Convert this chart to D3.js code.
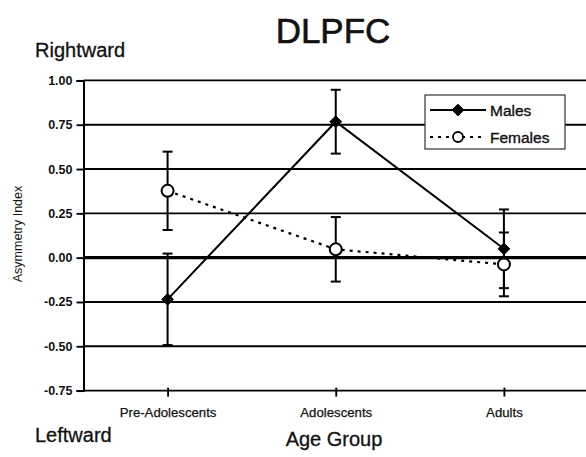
<!DOCTYPE html>
<html>
<head>
<meta charset="utf-8">
<script src="https://cdn.jsdelivr.net/npm/d3@7"></script>
<style>
  html, body { margin: 0; padding: 0; background: #fff; }
  svg { display: block; font-family: "Liberation Sans", Arial, Helvetica, sans-serif; }
</style>
</head>
<body>
<svg id="chart" width="586" height="457"></svg>
<script>
// ---- data ----
const categories = ["Pre-Adolescents", "Adolescents", "Adults"];
const malesMean = [-0.235, 0.767, 0.05];
const malesErr = [0.258, 0.18, 0.222];
const femalesMean = [0.377, 0.047, -0.038];
const femalesErr = [0.221, 0.182, 0.18];
const yTicks = [1.00, 0.75, 0.50, 0.25, 0.00, -0.25, -0.50, -0.75];
const seriesNames = ["Males", "Females"];
const titleText = "DLPFC";
const yTitle = "Asymmetry Index";
const xTitle = "Age Group";
const topNote = "Rightward";
const bottomNote = "Leftward";

// ---- layout ----
const svg = d3.select("#chart");
const plotL = 83.5, plotR = 588, plotT = 80.4, plotB = 390.6;

const x = d3.scalePoint().domain(categories).range([plotL, plotR]).padding(0.5);
const y = d3.scaleLinear().domain([-0.75, 1.0]).range([plotB, plotT]);
const fmt = v => d3.format(".2f")(v).replace("\u2212", "-");

// grid lines
svg.append("g").selectAll("line").data(yTicks).join("line")
  .attr("x1", plotL).attr("x2", plotR)
  .attr("y1", d => y(d)).attr("y2", d => y(d))
  .attr("stroke", "#000")
  .attr("stroke-width", d => d === 0 ? 3.2 : 1.9);

// y axis
const yAxis = d3.axisLeft(y).tickValues(yTicks).tickFormat(fmt).tickSize(7).tickPadding(4);
const gy = svg.append("g").attr("transform", `translate(${plotL},0)`).call(yAxis);
gy.select(".domain").attr("stroke-width", 2);
gy.selectAll(".tick line").attr("stroke-width", 1.9);
gy.selectAll(".tick text").attr("font-size", 12.5).attr("font-weight", "bold")
  .attr("font-family", "'Liberation Sans', Arial, sans-serif").attr("fill", "#111");

// x axis
const xAxis = d3.axisBottom(x).tickSize(0).tickPadding(0);
const gx = svg.append("g").attr("transform", `translate(0,${plotB})`).call(xAxis);
gx.select(".domain").remove();
gx.selectAll(".tick line").remove();
gx.selectAll(".tick").append("line").attr("y1", -3).attr("y2", 6).attr("stroke", "#000").attr("stroke-width", 1.9);
gx.selectAll(".tick text").attr("font-size", 13.2).attr("dy", 0).attr("y", 26)
  .attr("font-family", "'Liberation Sans', Arial, sans-serif").attr("fill", "#111")
  .attr("stroke", "#111").attr("stroke-width", 0.25);

// error bars
function errorBars(means, errs) {
  const g = svg.append("g").attr("stroke", "#000").attr("stroke-width", 2);
  categories.forEach((c, i) => {
    const cx = x(c), y1 = y(means[i] + errs[i]), y2 = y(means[i] - errs[i]);
    g.append("line").attr("x1", cx).attr("x2", cx).attr("y1", y1).attr("y2", y2);
    g.append("line").attr("x1", cx - 5).attr("x2", cx + 5).attr("y1", y1).attr("y2", y1);
    g.append("line").attr("x1", cx - 5).attr("x2", cx + 5).attr("y1", y2).attr("y2", y2);
  });
}
errorBars(malesMean, malesErr);
errorBars(femalesMean, femalesErr);

// lines
const lineGen = d3.line().x((d, i) => x(categories[i])).y(d => y(d));
svg.append("path").attr("d", lineGen(femalesMean)).attr("fill", "none")
  .attr("stroke", "#000").attr("stroke-width", 2.2).attr("stroke-dasharray", "3,5");
svg.append("path").attr("d", lineGen(malesMean)).attr("fill", "none")
  .attr("stroke", "#000").attr("stroke-width", 2);

// markers
const diamond = d3.symbol().type(d3.symbolDiamond2).size(88);
svg.append("g").selectAll("path").data(malesMean).join("path")
  .attr("d", diamond)
  .attr("transform", (d, i) => `translate(${x(categories[i])},${y(d)})`)
  .attr("fill", "#000").attr("stroke", "#000").attr("stroke-width", 1).attr("stroke-linejoin", "round");
svg.append("g").selectAll("circle").data(femalesMean).join("circle")
  .attr("cx", (d, i) => x(categories[i])).attr("cy", d => y(d)).attr("r", 6)
  .attr("fill", "#fff").attr("stroke", "#000").attr("stroke-width", 2);

// legend
const lg = svg.append("g");
lg.append("rect").attr("x", 425).attr("y", 95).attr("width", 140).attr("height", 54)
  .attr("fill", "#fff").attr("stroke", "#333").attr("stroke-width", 1.2);
const rows = [110, 137];
lg.append("line").attr("x1", 430).attr("x2", 486).attr("y1", rows[0]).attr("y2", rows[0])
  .attr("stroke", "#000").attr("stroke-width", 1.8);
lg.append("path").attr("d", diamond).attr("transform", `translate(458,${rows[0]})`)
  .attr("fill", "#000").attr("stroke", "#000").attr("stroke-width", 1).attr("stroke-linejoin", "round");
lg.append("line").attr("x1", 430).attr("x2", 486).attr("y1", rows[1]).attr("y2", rows[1])
  .attr("stroke", "#000").attr("stroke-width", 2).attr("stroke-dasharray", "3,5");
lg.append("circle").attr("cx", 458).attr("cy", rows[1]).attr("r", 5).attr("fill", "#fff")
  .attr("stroke", "#000").attr("stroke-width", 1.8);
lg.selectAll("text").data(seriesNames).join("text")
  .attr("x", 490).attr("y", (d, i) => rows[i]).attr("dy", "0.36em")
  .attr("font-size", 15.5).attr("fill", "#111").attr("stroke", "#111").attr("stroke-width", 0.35)
  .text(d => d);

// titles
svg.append("text").attr("x", 333).attr("y", 43).attr("text-anchor", "middle")
  .attr("font-size", 35).attr("fill", "#111").attr("stroke", "#111").attr("stroke-width", 0.6).text(titleText);
svg.append("text").attr("x", 35).attr("y", 57).attr("font-size", 20).attr("fill", "#111")
  .attr("stroke", "#111").attr("stroke-width", 0.3).text(topNote);
svg.append("text").attr("x", 35).attr("y", 442).attr("font-size", 20).attr("fill", "#111")
  .attr("stroke", "#111").attr("stroke-width", 0.3).text(bottomNote);
svg.append("text").attr("x", 334).attr("y", 446).attr("text-anchor", "middle")
  .attr("font-size", 20).attr("fill", "#111").attr("stroke", "#111").attr("stroke-width", 0.3).text(xTitle);
svg.append("text").attr("transform", "translate(22,234) rotate(-90)").attr("text-anchor", "middle")
  .attr("font-size", 12.5).attr("fill", "#111").text(yTitle);
</script>
</body>
</html>
